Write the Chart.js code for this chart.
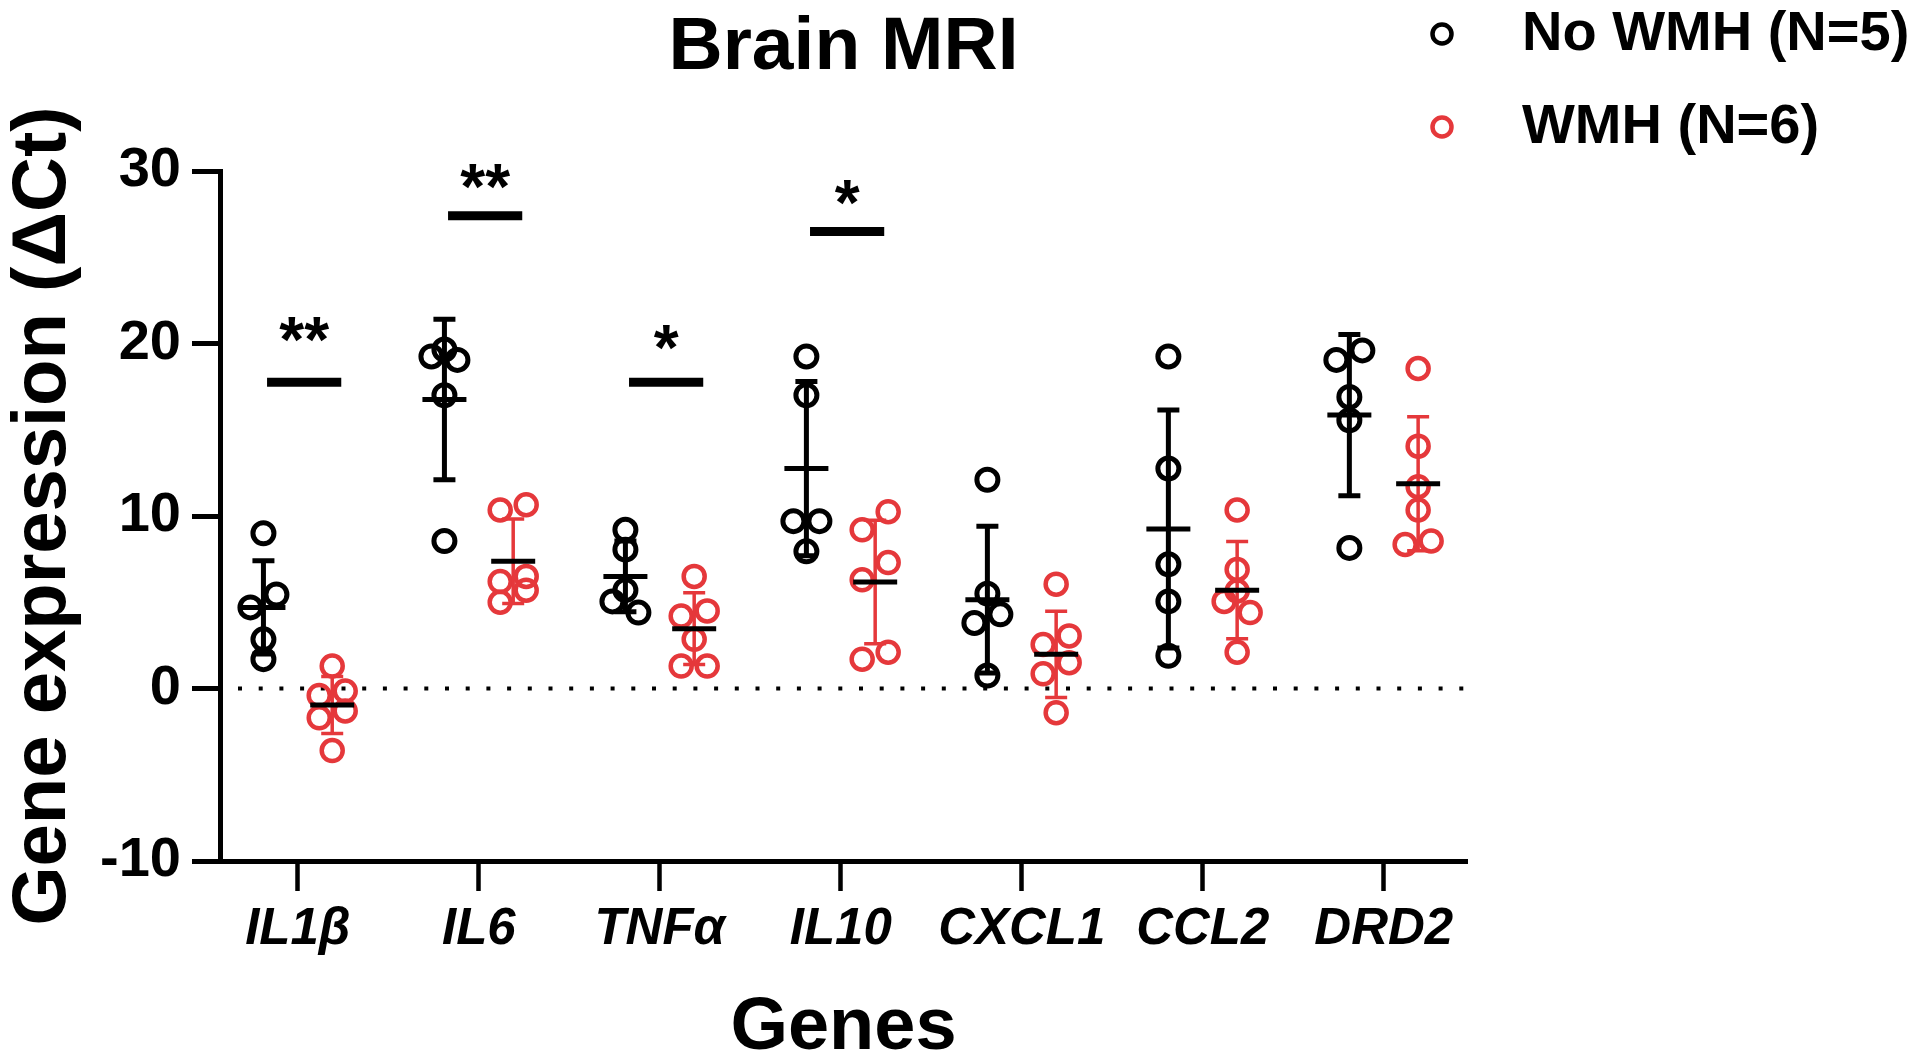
<!DOCTYPE html>
<html><head><meta charset="utf-8">
<script src="https://cdn.jsdelivr.net/npm/chart.js@4.4.1/dist/chart.umd.min.js"></script>
<style>html,body{margin:0;padding:0;background:#fff;}</style>
</head><body>
<canvas id="c" width="1920" height="1063"></canvas>
<script>
// ---------- data ----------
const genes = ['IL1β', 'IL6', 'TNFα', 'IL10', 'CXCL1', 'CCL2', 'DRD2'];
const seriesLabels = ['No WMH (N=5)', 'WMH (N=6)'];
const yTicks = [-10, 0, 10, 20, 30];

const noWMH = [
  [9.0, 5.45, 4.7, 2.85, 1.7],
  [19.65, 19.25, 19.05, 17.0, 8.55],
  [9.2, 8.05, 5.7, 5.05, 4.4],
  [19.25, 17.0, 9.7, 9.7, 7.95],
  [12.1, 5.5, 4.3, 3.8, 0.75],
  [19.25, 12.75, 7.2, 5.05, 1.9],
  [19.6, 19.05, 16.9, 15.55, 8.15]
];
const WMH = [
  [1.3, -0.15, -0.4, -1.3, -1.7, -3.6],
  [10.65, 10.35, 6.5, 6.2, 5.7, 5.0],
  [6.5, 4.5, 4.2, 2.85, 1.3, 1.3],
  [10.25, 9.2, 7.3, 6.3, 2.1, 1.7],
  [6.05, 3.05, 2.55, 1.5, 0.85, -1.4],
  [10.35, 6.9, 5.65, 5.05, 4.4, 2.1],
  [18.55, 14.05, 11.7, 10.35, 8.55, 8.35]
];
const meanNo = [4.7, 16.75, 6.5, 12.75, 5.15, 9.25, 15.85];
const sdNo   = [2.7, 4.65, 2.05, 5.05, 4.25, 6.9, 4.67];
const meanW  = [-0.96, 7.38, 3.47, 6.17, 1.98, 5.7, 11.87];
const sdW    = [1.65, 2.45, 2.08, 3.58, 2.5, 2.82, 3.89];

const sigGene  = [0, 1, 2, 3];
const sigBarY  = [17.75, 27.4, 17.75, 26.5];
const sigStarY = [21.05, 29.9, 20.6, 29.0];
const sigText  = ['**', '**', '*', '*'];

// ---------- layout constants ----------
const FONT = "'Liberation Sans', Arial, sans-serif";
const BLACK = '#000000';
const RED = '#e5383b';
const X_MIN = -0.43, X_MAX = 6.46;
const PX_PER_CAT = 181, PX_PER_Y = 17.3;
const GROUP_OFF = [-0.19, 0.19];
const STEP = 13 / PX_PER_CAT;
const COLLIDE = 19.5;

function swarm(values, center) {
  const idx = values.map((v, i) => i).sort((a, b) => values[b] - values[a]);
  const xs = new Array(values.length);
  const chains = [];
  let chain = [idx[0]];
  for (let k = 1; k < idx.length; k++) {
    const prev = chain[chain.length - 1];
    if ((values[prev] - values[idx[k]]) * PX_PER_Y < COLLIDE) chain.push(idx[k]);
    else { chains.push(chain); chain = [idx[k]]; }
  }
  chains.push(chain);
  chains.forEach(c => c.forEach((pi, j) => {
    let off;
    if (c.length % 2 === 1) off = j === 0 ? 0 : (j % 2 === 1 ? -1 : 1);
    else off = j % 2 === 0 ? 1 : -1;
    xs[pi] = center + off * STEP;
  }));
  return xs;
}

function buildPoints(groups, g) {
  const pts = [];
  groups.forEach((vals, i) => {
    const xs = swarm(vals, i + GROUP_OFF[g]);
    vals.forEach((v, k) => pts.push({ x: xs[k], y: v }));
  });
  return pts;
}

const overlay = {
  id: 'overlay',
  beforeDatasetsDraw(chart) {
    const { ctx, chartArea, scales: { y } } = chart;
    ctx.save();
    ctx.strokeStyle = BLACK;
    ctx.lineWidth = 4;
    ctx.setLineDash([4, 16.7]);
    const y0 = y.getPixelForValue(0);
    ctx.beginPath();
    ctx.moveTo(chartArea.left + 18, y0);
    ctx.lineTo(chartArea.right, y0);
    ctx.stroke();
    ctx.restore();
  },
  afterDatasetsDraw(chart) {
    const { ctx, chartArea, scales: { x, y } } = chart;
    ctx.save();
    const groups = [[meanNo, sdNo, BLACK, 5], [meanW, sdW, RED, 3.5]];
    groups.forEach(([mean, sd, col, lw], g) => {
      genes.forEach((_, i) => {
        const cx = x.getPixelForValue(i + GROUP_OFF[g]);
        const yt = y.getPixelForValue(mean[i] + sd[i]);
        const yb = y.getPixelForValue(mean[i] - sd[i]);
        const ym = y.getPixelForValue(mean[i]);
        ctx.strokeStyle = col;
        ctx.lineWidth = lw;
        ctx.beginPath();
        ctx.moveTo(cx, yt); ctx.lineTo(cx, yb);
        ctx.moveTo(cx - 11, yt); ctx.lineTo(cx + 11, yt);
        ctx.moveTo(cx - 11, yb); ctx.lineTo(cx + 11, yb);
        ctx.stroke();
        ctx.strokeStyle = BLACK;
        ctx.lineWidth = 5;
        ctx.beginPath();
        ctx.moveTo(cx - 22, ym); ctx.lineTo(cx + 22, ym);
        ctx.stroke();
      });
    });
    // significance
    ctx.strokeStyle = BLACK;
    ctx.fillStyle = BLACK;
    ctx.lineWidth = 9;
    ctx.font = 'bold 64px ' + FONT;
    ctx.textAlign = 'center';
    ctx.textBaseline = 'alphabetic';
    sigGene.forEach((gi, k) => {
      const x1 = x.getPixelForValue(gi - 0.17), x2 = x.getPixelForValue(gi + 0.24);
      const yb = y.getPixelForValue(sigBarY[k]);
      ctx.beginPath(); ctx.moveTo(x1, yb); ctx.lineTo(x2, yb); ctx.stroke();
      const xs = x.getPixelForValue(gi + 0.035);
      ctx.fillText(sigText[k], xs, y.getPixelForValue(sigStarY[k]) + 0.57 * 64);
    });
    // legend
    const lx = chartArea.right - 25;
    const rows = [[34, BLACK], [127, RED]];
    ctx.font = 'bold 56px ' + FONT;
    ctx.textAlign = 'left';
    ctx.textBaseline = 'middle';
    rows.forEach(([ly, col], k) => {
      ctx.strokeStyle = col;
      ctx.lineWidth = 4.5;
      ctx.beginPath(); ctx.arc(lx, ly, 9.5, 0, Math.PI * 2); ctx.stroke();
      ctx.fillStyle = BLACK;
      ctx.fillText(seriesLabels[k], chartArea.right + 55, ly + 1);
    });
    ctx.restore();
  }
};

new Chart(document.getElementById('c'), {
  type: 'scatter',
  data: {
    datasets: [
      { label: seriesLabels[0], data: buildPoints(noWMH, 0), borderColor: BLACK,
        backgroundColor: 'rgba(0,0,0,0)', pointRadius: 10.5, pointBorderWidth: 5, pointHoverRadius: 10.5 },
      { label: seriesLabels[1], data: buildPoints(WMH, 1), borderColor: RED,
        backgroundColor: 'rgba(0,0,0,0)', pointRadius: 10.5, pointBorderWidth: 4.5, pointHoverRadius: 10.5 }
    ]
  },
  options: {
    responsive: false,
    animation: false,
    devicePixelRatio: 1,
    events: [],
    clip: false,
    layout: { padding: { left: 0, right: 453, top: 0, bottom: 0 } },
    plugins: {
      legend: { display: false },
      tooltip: { enabled: false },
      title: {
        display: true, text: 'Brain MRI', fullSize: false, color: BLACK,
        font: { family: FONT, weight: 'bold', size: 75, lineHeight: 1 },
        padding: { top: 11, bottom: 85 }
      }
    },
    scales: {
      x: {
        type: 'linear', min: X_MIN, max: X_MAX,
        afterBuildTicks: (s) => { s.ticks = genes.map((_, i) => ({ value: i })); },
        afterFit: (s) => { s.height = 202; },
        ticks: {
          callback: (v) => genes[v], color: BLACK, padding: 8, maxRotation: 0, autoSkip: false,
          font: { family: FONT, weight: 'bold', style: 'italic', size: 51, lineHeight: 1.2 }
        },
        grid: { drawOnChartArea: false, drawTicks: true, tickLength: 30, tickWidth: 4.5, tickColor: BLACK },
        border: { display: true, width: 5, color: BLACK },
        title: {
          display: true, text: 'Genes', color: BLACK,
          font: { family: FONT, weight: 'bold', size: 74, lineHeight: 0.9 },
          padding: { top: 0, bottom: 1 }
        }
      },
      y: {
        min: -10, max: 30,
        afterBuildTicks: (s) => { s.ticks = yTicks.map(v => ({ value: v })); },
        afterFit: (s) => { s.width = 220; },
        ticks: {
          color: BLACK, padding: 11,
          font: { family: FONT, weight: 'bold', size: 56, lineHeight: 1.2 }
        },
        grid: { drawOnChartArea: false, drawTicks: true, tickLength: 28, tickWidth: 5, tickColor: BLACK },
        border: { display: true, width: 5, color: BLACK },
        title: {
          display: true, text: 'Gene expression (ΔCt)', color: BLACK,
          font: { family: FONT, weight: 'bold', size: 76, lineHeight: 1 },
          padding: { top: 6, bottom: 0 }
        }
      }
    }
  },
  plugins: [overlay]
});
</script>
</body></html>
